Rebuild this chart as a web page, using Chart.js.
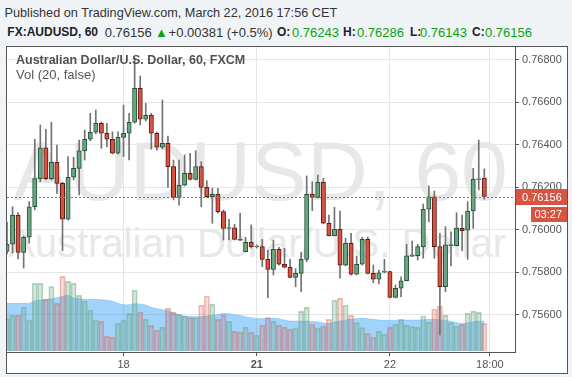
<!DOCTYPE html>
<html><head><meta charset="utf-8">
<script src="https://cdn.jsdelivr.net/npm/chart.js@4.4.1/dist/chart.umd.min.js"></script>
<style>
html,body{margin:0;padding:0;background:#f1f4f7;width:572px;height:377px;overflow:hidden;font-family:"Liberation Sans",Arial,sans-serif;}
.ln{position:absolute;white-space:nowrap;line-height:15px;}
#h1{left:4.5px;top:5.5px;font-size:12.7px;color:#333;}
.s{position:absolute;top:24.5px;white-space:nowrap;line-height:15px;font-size:13px;color:#333;}
.b{font-weight:bold;font-size:12px;color:#222;top:25px;}
.g{color:#0ca30c;}
#frame{position:absolute;left:6px;top:46px;width:560px;height:326px;border:1px solid #555;background:#fff;overflow:hidden;}
.wm{position:absolute;white-space:nowrap;color:#e8e8e8;}
#wm1{left:6px;top:82px;font-size:84px;line-height:84px;}
#wm2{left:1px;top:176px;font-size:40px;line-height:40px;}
#lg1{left:9px;top:6px;font-size:12.5px;font-weight:bold;color:#505050;z-index:2;}
#lg2{left:9px;top:20.3px;font-size:13px;color:#555;z-index:2;}
canvas{position:absolute;left:0;top:0;z-index:1;}
</style></head>
<body>
<div id="h1" class="ln">Published on TradingView.com, March 22, 2016 17:56 CET</div>
<div class="s b" style="left:7.3px">FX:AUDUSD, 60</div>
<div class="s" style="left:104.7px">0.76156</div>
<div class="s g" style="left:155px">▲</div>
<div class="s" style="left:168.6px">+0.00381 (+0.5%)</div>
<div class="s b" style="left:277px">O:</div>
<div class="s g" style="left:292px">0.76243</div>
<div class="s b" style="left:343px">H:</div>
<div class="s g" style="left:357px">0.76286</div>
<div class="s b" style="left:410px">L:</div>
<div class="s g" style="left:420px">0.76143</div>
<div class="s b" style="left:472px">C:</div>
<div class="s g" style="left:485px">0.76156</div>
<div id="frame">
  <div id="wm1" class="wm">AUDUSD, 60</div>
  <div id="wm2" class="wm">Australian Dollar/U.S. Dollar</div>
  <div id="lg1" class="ln">Australian Dollar/U.S. Dollar, 60, FXCM</div>
  <div id="lg2" class="ln">Vol (20, false)</div>
  <canvas id="c" width="560" height="326"></canvas>
</div>
<script>
const opens = [0.75897,0.75931,0.76069,0.75893,0.75964,0.76108,0.76240,0.76386,0.76240,0.76317,
0.76218,0.76049,0.76247,0.76289,0.76371,0.76426,0.76459,0.76501,0.76454,0.76426,
0.76360,0.76435,0.76454,0.76506,0.76666,0.76520,0.76539,0.76454,0.76388,0.76407,
0.76297,0.76152,0.76209,0.76265,0.76237,0.76297,0.76199,0.76155,0.76166,0.76085,
0.76006,0.76009,0.75954,0.75896,0.75940,0.75919,0.75920,0.75860,0.75813,0.75907,
0.75837,0.75823,0.75775,0.75794,0.75860,0.76166,0.76152,0.76223,0.76030,0.75971,
0.76002,0.75832,0.75936,0.75790,0.75837,0.75954,0.75794,0.75766,0.75800,0.75802,
0.75681,0.75724,0.75759,0.75875,0.75877,0.75920,0.76096,0.76155,0.75920,0.75731,
0.75925,0.75924,0.76006,0.75998,0.76088,0.76235,0.76243];
const closes = [0.75931,0.76069,0.75893,0.75964,0.76108,0.76240,0.76386,0.76240,0.76317,0.76218,
0.76049,0.76247,0.76289,0.76371,0.76426,0.76459,0.76501,0.76454,0.76426,0.76360,
0.76435,0.76454,0.76506,0.76666,0.76520,0.76539,0.76454,0.76388,0.76407,0.76297,
0.76152,0.76209,0.76265,0.76237,0.76297,0.76199,0.76155,0.76166,0.76085,0.76006,
0.76010,0.75954,0.75950,0.75940,0.75920,0.75923,0.75860,0.75813,0.75907,0.75837,
0.75823,0.75775,0.75794,0.75860,0.76166,0.76152,0.76223,0.76030,0.75971,0.76002,
0.75832,0.75936,0.75790,0.75837,0.75954,0.75794,0.75766,0.75797,0.75804,0.75681,
0.75724,0.75759,0.75877,0.75879,0.75920,0.76096,0.76155,0.75920,0.75731,0.75928,
0.75929,0.76006,0.75995,0.76088,0.76237,0.76239,0.76156];
const highs = [0.76036,0.76108,0.76080,0.75970,0.76132,0.76426,0.76493,0.76473,0.76506,0.76399,
0.76224,0.76344,0.76341,0.76422,0.76469,0.76548,0.76564,0.76507,0.76501,0.76461,
0.76461,0.76587,0.76548,0.76809,0.76724,0.76595,0.76548,0.76460,0.76611,0.76441,
0.76328,0.76328,0.76352,0.76360,0.76372,0.76320,0.76231,0.76195,0.76195,0.76093,
0.76049,0.76025,0.76077,0.75964,0.76022,0.75928,0.75954,0.75904,0.75951,0.75917,
0.75912,0.75860,0.75816,0.75893,0.76253,0.76226,0.76257,0.76242,0.76069,0.76105,
0.76088,0.75959,0.75983,0.75876,0.75964,0.75965,0.75833,0.75810,0.75860,0.75805,
0.75739,0.75778,0.75931,0.75946,0.75931,0.76121,0.76206,0.76182,0.75983,0.76014,
0.75990,0.76080,0.76069,0.76132,0.76289,0.76422,0.76286];
const lows = [0.75885,0.75890,0.75862,0.75819,0.75937,0.76093,0.76226,0.76234,0.76234,0.76171,
0.75901,0.76045,0.76234,0.76163,0.76328,0.76418,0.76451,0.76383,0.76391,0.76356,
0.76356,0.76344,0.76328,0.76502,0.76493,0.76512,0.76379,0.76375,0.76380,0.76199,
0.76140,0.76115,0.76206,0.76234,0.76234,0.76108,0.76152,0.76030,0.76078,0.75951,
0.75951,0.75951,0.75948,0.75895,0.75913,0.75913,0.75825,0.75679,0.75786,0.75833,
0.75819,0.75772,0.75731,0.75708,0.75849,0.76089,0.76149,0.76027,0.75970,0.75970,
0.75771,0.75829,0.75786,0.75786,0.75833,0.75791,0.75750,0.75744,0.75796,0.75678,
0.75678,0.75684,0.75758,0.75873,0.75857,0.75865,0.76037,0.75865,0.75504,0.75708,
0.75829,0.75923,0.75901,0.75860,0.76006,0.76187,0.76143];
const volumes = [970,1070,1070,1310,930,2030,2030,1550,1930,1430,
2240,2090,2030,1670,1500,1230,930,890,440,410,
830,930,1130,1820,1170,950,770,630,710,1280,
1160,1100,1050,1000,1000,1370,1650,1400,950,1070,
890,590,570,710,560,470,770,1000,890,770,
710,650,690,1190,1310,800,690,750,950,1520,
1580,1370,1070,850,700,530,420,590,500,710,
800,950,770,730,710,1050,870,1260,1340,1070,
850,750,800,1130,1190,1160,830];
const volMA = [1430,1430,1430,1430,1430,1510,1530,1550,1570,1600,
1640,1670,1590,1570,1550,1550,1550,1540,1520,1490,
1430,1390,1390,1420,1410,1380,1310,1270,1240,1210,
1150,1090,1050,1040,1030,1030,1050,1070,1090,1130,
1120,1090,1070,1030,1000,970,970,990,980,970,
930,900,900,900,900,890,870,840,830,870,
900,930,950,970,980,970,950,930,920,920,
920,930,930,930,930,940,950,950,930,920,
890,850,830,850,880,900,900];
const xTickIdx = [21,45,69,87];
const xTickLabels = ['18','21','22','18:00'];
const yTicks = [0.756,0.758,0.760,0.762,0.764,0.766,0.768];
const lastPrice = 0.76156;
const countdown = '03:27';

const UP='#6ba583', UPB='#225437', DN='#d75442', DNB='#5b1a13', WICK='#737375';
const idx = opens.map((_, i) => i);
const isUp = idx.map(i => closes[i] >= opens[i]);
const FONT = '"Liberation Sans", Arial, sans-serif';

const priceLine = {
  id: 'priceLine',
  afterDatasetsDraw(chart) {
    const {ctx, chartArea} = chart;
    const y = Math.round(chart.scales.y.getPixelForValue(lastPrice)) + 0.5;
    ctx.save();
    ctx.strokeStyle = '#d75442';
    ctx.lineWidth = 1;
    ctx.setLineDash([2, 2]);
    ctx.beginPath(); ctx.moveTo(chartArea.left, y); ctx.lineTo(chartArea.right, y); ctx.stroke();
    ctx.restore();
  },
  afterDraw(chart) {
    const {ctx, chartArea, width} = chart;
    const y = chart.scales.y.getPixelForValue(lastPrice);
    ctx.save();
    ctx.fillStyle = '#d75442';
    ctx.fillRect(chartArea.right + 1, Math.round(y - 7.5), width - chartArea.right - 1, 16);
    ctx.fillRect(chartArea.right + 16, Math.round(y + 10.5), width - chartArea.right - 16, 15);
    ctx.fillStyle = '#fff';
    ctx.font = '11px ' + FONT;
    ctx.textBaseline = 'middle';
    ctx.textAlign = 'left';
    ctx.fillText(lastPrice.toFixed(5), chartArea.right + 7, Math.round(y - 7.5) + 8.5);
    ctx.textAlign = 'right';
    ctx.fillText(countdown, width - 5, Math.round(y + 10.5) + 8);
    ctx.restore();
  }
};

new Chart(document.getElementById('c'), {
  type: 'bar',
  data: {
    datasets: [
      { type: 'bar', yAxisID: 'y', grouped: false,
        data: idx.map(i => ({x: i, y: [opens[i], closes[i]]})),
        backgroundColor: idx.map(i => isUp[i] ? UP : DN),
        borderColor: idx.map(i => isUp[i] ? UPB : DNB),
        borderWidth: 1, borderSkipped: false, barThickness: 4.3 },
      { type: 'bar', yAxisID: 'y', grouped: false,
        data: idx.map(i => ({x: i, y: [lows[i], highs[i]]})),
        backgroundColor: WICK, borderWidth: 0, barThickness: 1 },
      { type: 'bar', yAxisID: 'yVol', grouped: false,
        data: idx.map(i => ({x: i, y: volumes[i]})),
        backgroundColor: idx.map(i => isUp[i] ? 'rgba(107,165,131,0.27)' : 'rgba(215,84,66,0.2)'),
        borderColor: idx.map(i => isUp[i] ? 'rgba(107,165,131,0.5)' : 'rgba(215,84,66,0.38)'),
        borderWidth: 1, barThickness: 5.2 },
      { type: 'line', yAxisID: 'yVol',
        data: idx.map(i => ({x: i, y: volMA[i]})),
        fill: 'origin', backgroundColor: 'rgba(33,150,243,0.42)',
        borderColor: 'rgba(33,150,243,0.25)', borderWidth: 1,
        pointRadius: 0, tension: 0.3 }
    ]
  },
  options: {
    responsive: false, animation: false, devicePixelRatio: 1,
    layout: { padding: 0, autoPadding: false },
    plugins: { legend: { display: false }, tooltip: { enabled: false } },
    scales: {
      x: {
        type: 'linear', min: 0, max: 91.53, offset: false,
        grid: { color: '#e6e6e6', tickColor: '#555', tickLength: 4, offset: false },
        border: { display: true, color: '#555', width: 1 },
        afterBuildTicks: s => { s.ticks = xTickIdx.map(v => ({value: v})); },
        afterFit: s => { s.height = 21; s.paddingLeft = 0; s.paddingRight = 0; },
        ticks: {
          autoSkip: false, maxRotation: 0, padding: 2, color: '#555',
          font: c => ({ family: FONT, size: 11, weight: (c.tick && c.tick.value === 45) ? 'bold' : 'normal' }),
          callback: v => xTickLabels[xTickIdx.indexOf(v)]
        }
      },
      y: {
        position: 'right', min: 0.754234, max: 0.768606,
        grid: { color: '#e6e6e6', tickColor: '#555', tickLength: 4 },
        border: { display: true, color: '#555', width: 1 },
        afterBuildTicks: s => { s.ticks = yTicks.map(v => ({value: v})); },
        afterFit: s => { s.width = 52; s.paddingTop = 0; s.paddingBottom = 0; },
        ticks: { padding: 3, color: '#555', font: { family: FONT, size: 11 },
          callback: v => Number(v).toFixed(5) }
      },
      yVol: { display: false, min: -30, max: 9120 }
    }
  },
  plugins: [priceLine]
});
</script>
</body></html>
